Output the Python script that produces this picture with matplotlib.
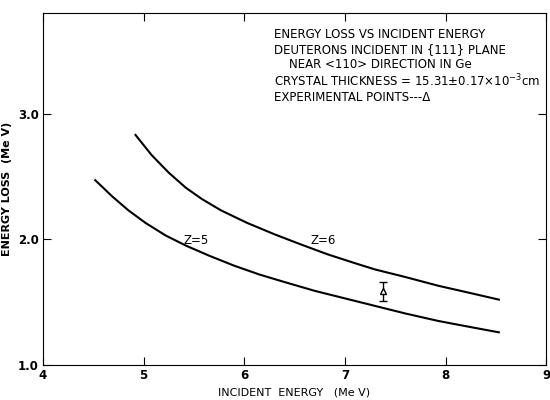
import matplotlib
matplotlib.use("Agg")
import matplotlib.pyplot as plt

# curves (incident energy MeV, energy loss MeV)
z6_energy = [4.92, 5.08, 5.25, 5.42, 5.58, 5.77, 6.03, 6.30, 6.56, 6.83,
             7.10, 7.30, 7.60, 7.93, 8.26, 8.53]
z6_loss = [2.83, 2.67, 2.53, 2.41, 2.32, 2.23, 2.13, 2.04, 1.96, 1.88,
           1.81, 1.76, 1.70, 1.63, 1.57, 1.52]

z5_energy = [4.52, 4.69, 4.85, 5.02, 5.22, 5.42, 5.65, 5.90, 6.15, 6.40,
             6.70, 7.00, 7.30, 7.60, 7.93, 8.26, 8.53]
z5_loss = [2.47, 2.34, 2.23, 2.13, 2.03, 1.95, 1.87, 1.79, 1.72, 1.66,
           1.59, 1.53, 1.47, 1.41, 1.35, 1.30, 1.26]

exp_energy = [7.38]
exp_loss = [1.585]
exp_err = [0.075]

x_ticks = [4, 5, 6, 7, 8, 9]
y_ticks = [1.0, 2.0, 3.0]

notes = [
    "ENERGY LOSS VS INCIDENT ENERGY",
    "DEUTERONS INCIDENT IN {111} PLANE",
    "    NEAR <110> DIRECTION IN Ge",
    "CRYSTAL THICKNESS = 15.31\u00b10.17\u00d710$^{-3}$cm",
    "EXPERIMENTAL POINTS---\u0394",
]

plt.rcParams['font.family'] = ['DejaVu Sans']

fig = plt.figure(figsize=(5.5, 4), dpi=100)
ax = fig.add_axes([0.078, 0.0875, 0.915, 0.88])

ax.plot(z6_energy, z6_loss, color='black', lw=1.5)
ax.plot(z5_energy, z5_loss, color='black', lw=1.5)
ax.errorbar(exp_energy, exp_loss, yerr=exp_err, fmt='^', mfc='white',
            mec='black', ecolor='black', ms=5, capsize=3, elinewidth=1)

ax.text(5.52, 1.99, "Z=5", fontsize=8.5, ha='center', va='center')
ax.text(6.78, 1.99, "Z=6", fontsize=8.5, ha='center', va='center')

note_y = [3.63, 3.51, 3.39, 3.26, 3.13]
for txt, ny in zip(notes, note_y):
    ax.text(6.30, ny, txt, fontsize=8.5, ha='left', va='center')

ax.set_xlim(4, 9)
ax.set_ylim(1.0, 3.8)
ax.set_xticks(x_ticks)
ax.set_yticks(y_ticks)
ax.set_xticklabels([str(t) for t in x_ticks], fontweight='bold', fontsize=8.5)
ax.set_yticklabels(["%.1f" % t for t in y_ticks], fontweight='bold', fontsize=8.5)
ax.tick_params(direction='in', length=6, top=True, right=True, pad=3)
ax.set_xlabel("INCIDENT  ENERGY   (Me V)", fontsize=8)
ax.set_ylabel("ENERGY LOSS  (Me V)", fontsize=8, fontweight='bold')

fig.savefig("out.png", dpi=100)
